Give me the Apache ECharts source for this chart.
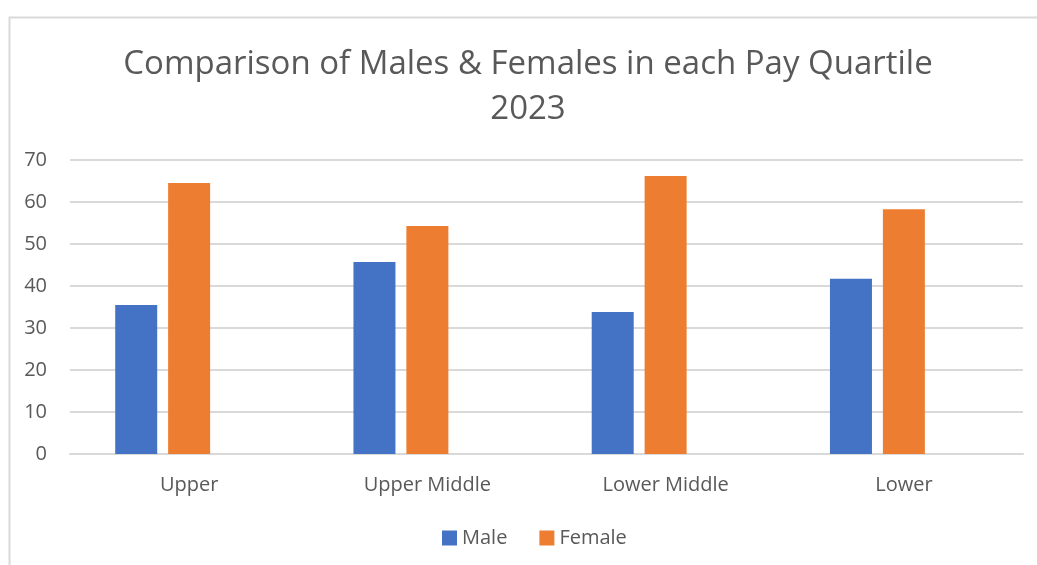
<!DOCTYPE html>
<html>
<head>
<meta charset="utf-8">
<script src="https://cdn.jsdelivr.net/npm/echarts@6/dist/echarts.min.js"></script>
<style>
  html, body { margin: 0; padding: 0; background: #ffffff; }
  #chart { width: 1037px; height: 565px; }
</style>
</head>
<body>
<div id="chart"></div>
<script>
const titleText = 'Comparison of Males & Females in each Pay Quartile\n2023';
const categories = ['Upper', 'Upper Middle', 'Lower Middle', 'Lower'];
const maleValues = [35.5, 45.7, 33.8, 41.7];
const femaleValues = [64.5, 54.3, 66.2, 58.3];
const emptyValues = ['-', '-', '-', '-'];
const yTicks = { min: 0, max: 70, interval: 10 };

const FONT = '"Open Sans", sans-serif';
const TEXT = '#595959';
const GRID = '#d9d9d9';

const chart = echarts.init(document.getElementById('chart'), null, { renderer: 'canvas' });
chart.setOption({
  backgroundColor: '#ffffff',
  animation: false,
  graphic: [{
    type: 'rect',
    shape: { x: 9.5, y: 17.5, width: 1100, height: 600 },
    style: { fill: 'none', stroke: GRID, lineWidth: 2 },
    silent: true,
    z: -1
  }],
  title: {
    text: titleText,
    left: 523,
    textAlign: 'center',
    top: 37,
    textStyle: { fontFamily: FONT, fontSize: 33, fontWeight: 'normal', color: TEXT, lineHeight: 45 }
  },
  legend: {
    data: ['Male', 'Female'],
    bottom: 12,
    left: 437,
    itemWidth: 15,
    itemHeight: 15,
    itemGap: 32,
    icon: 'rect',
    textStyle: { fontFamily: FONT, fontSize: 20, color: TEXT }
  },
  grid: { left: 70, right: 14, top: 160, bottom: 111, containLabel: false },
  xAxis: {
    type: 'category',
    data: categories,
    axisLine: { show: true, lineStyle: { color: GRID, width: 2 } },
    axisTick: { show: false },
    axisLabel: { fontFamily: FONT, fontSize: 20, color: TEXT, margin: 21 }
  },
  yAxis: {
    type: 'value',
    min: yTicks.min,
    max: yTicks.max,
    interval: yTicks.interval,
    axisLine: { show: false },
    axisTick: { show: false },
    splitLine: { lineStyle: { color: GRID, width: 2 } },
    axisLabel: { fontFamily: FONT, fontSize: 20, color: TEXT, margin: 23, padding: [6, 0, 0, 0] }
  },
  series: [
    { name: 'Male', type: 'bar', data: maleValues, barWidth: 42, barGap: '26%', barCategoryGap: '38%', itemStyle: { color: '#4472C4' } },
    { name: 'Female', type: 'bar', data: femaleValues, barWidth: 42, barGap: '26%', itemStyle: { color: '#ED7D31' } },
    { name: 'Blank', type: 'bar', data: emptyValues, barWidth: 42, barGap: '26%', itemStyle: { color: '#A5A5A5' } }
  ]
});
</script>
</body>
</html>
